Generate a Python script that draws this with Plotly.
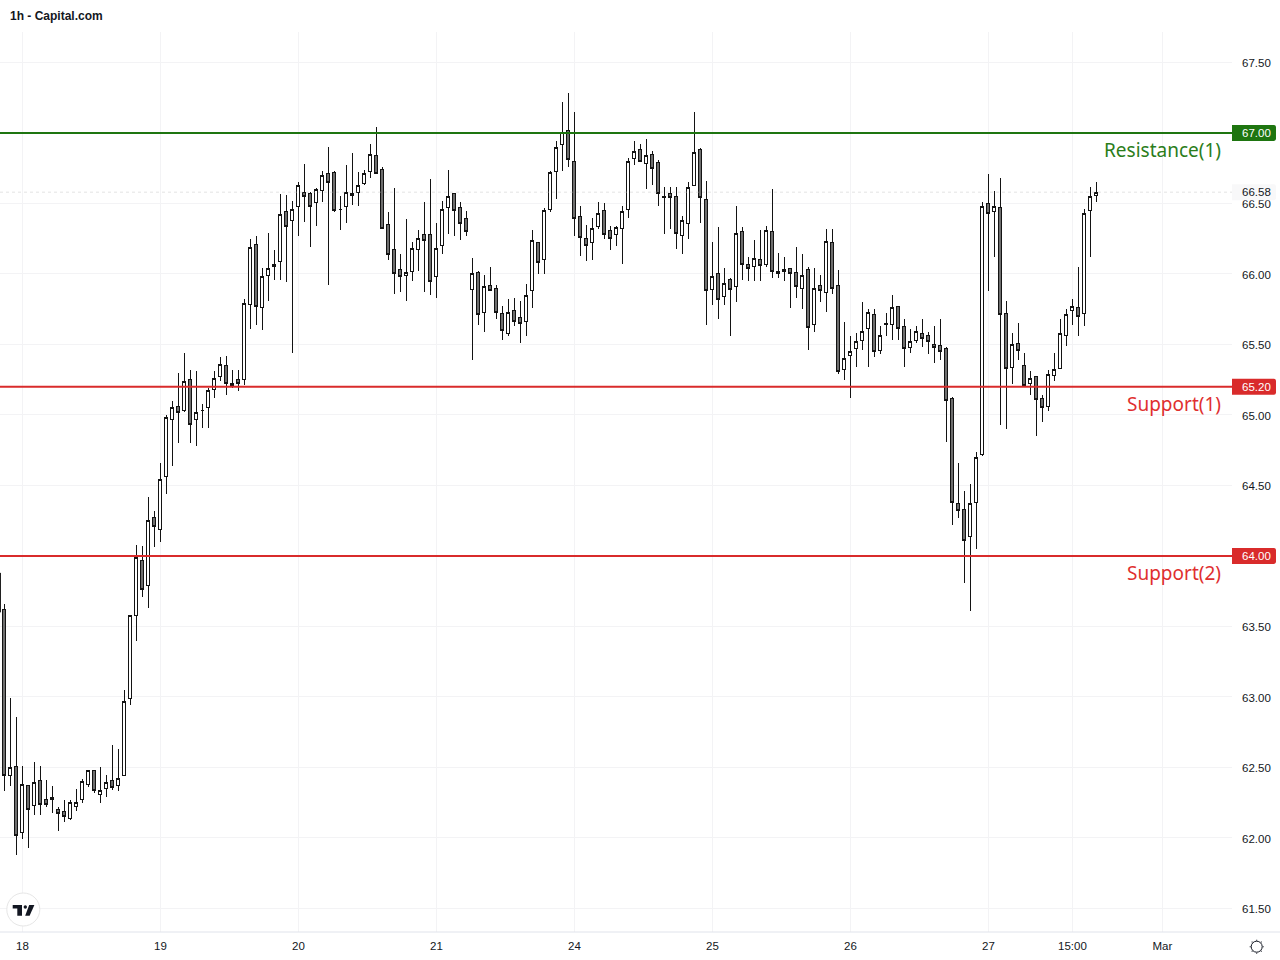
import plotly.graph_objects as go

# hourly bars
opens = [63.62, 62.44, 62.51, 62.04, 62.37, 62.23, 62.41, 62.27, 62.27, 62.20, 62.19, 62.14, 62.22, 62.27, 62.38, 62.48, 62.31, 62.35, 62.41, 62.37,
         62.44, 62.99, 63.58, 63.97, 63.79, 64.27, 64.19, 64.56, 64.97, 65.06, 65.03, 65.25, 64.97, 65.03, 65.05, 65.18, 65.27, 65.35, 65.22, 65.25,
         65.25, 65.78, 66.21, 65.76, 65.99, 66.05, 66.09, 66.44, 66.38, 66.48, 66.58, 66.57, 66.51, 66.59, 66.71, 66.72, 66.46, 66.48, 66.56, 66.58,
         66.64, 66.73, 66.84, 66.74, 66.35, 66.17, 66.03, 65.99, 66.02, 66.17, 66.28, 66.28, 65.98, 66.20, 66.47, 66.57, 66.47, 66.39, 65.89, 66.01,
         65.73, 65.92, 65.90, 65.72, 65.58, 65.74, 65.69, 65.66, 65.88, 66.22, 66.10, 66.46, 66.73, 66.92, 67.02, 66.80, 66.41, 66.25, 66.22, 66.34,
         66.45, 66.31, 66.28, 66.32, 66.46, 66.82, 66.88, 66.78, 66.85, 66.79, 66.55, 66.57, 66.55, 66.27, 66.36, 66.63, 66.88, 66.53, 65.89, 66.00,
         65.84, 65.96, 65.91, 66.30, 66.07, 66.05, 66.10, 66.07, 66.30, 66.00, 66.03, 66.04, 66.01, 65.90, 66.03, 65.64, 65.92, 65.87, 66.22, 65.92,
         65.32, 65.42, 65.47, 65.53, 65.61, 65.71, 65.46, 65.65, 65.64, 65.77, 65.63, 65.48, 65.53, 65.58, 65.56, 65.50, 65.49, 65.47, 65.12, 64.37,
         64.33, 64.14, 64.38, 64.72, 66.50, 66.44, 66.47, 65.72, 65.34, 65.51, 65.35, 65.22, 65.27, 65.12, 65.06, 65.28, 65.33, 65.56, 65.74, 65.76,
         65.72, 66.45, 66.56]
highs = [63.66, 62.99, 62.86, 62.51, 62.37, 62.54, 62.51, 62.41, 62.37, 62.22, 62.27, 62.27, 62.35, 62.42, 62.48, 62.48, 62.50, 62.45, 62.66, 62.63,
         63.05, 63.58, 64.08, 64.07, 64.42, 64.32, 64.66, 65.00, 65.10, 65.30, 65.44, 65.32, 65.31, 65.08, 65.19, 65.31, 65.41, 65.42, 65.32, 65.32,
         65.82, 66.25, 66.27, 66.04, 66.29, 66.17, 66.57, 66.56, 66.52, 66.65, 66.78, 66.58, 66.61, 66.73, 66.90, 66.73, 66.55, 66.77, 66.86, 66.72,
         66.74, 66.92, 67.04, 66.76, 66.44, 66.61, 66.14, 66.39, 66.23, 66.31, 66.51, 66.67, 66.36, 66.52, 66.74, 66.57, 66.51, 66.45, 66.11, 66.02,
         65.99, 66.05, 65.92, 65.77, 65.82, 65.83, 65.81, 65.93, 66.31, 66.23, 66.47, 66.73, 66.94, 67.22, 67.28, 67.15, 66.48, 66.35, 66.40, 66.51,
         66.50, 66.34, 66.34, 66.48, 66.82, 66.94, 66.92, 66.96, 66.87, 66.81, 66.62, 66.62, 66.62, 66.41, 66.65, 67.15, 66.89, 66.66, 66.23, 66.33,
         66.04, 65.97, 66.48, 66.33, 66.12, 66.24, 66.31, 66.34, 66.60, 66.15, 66.12, 66.04, 66.19, 66.14, 66.05, 66.04, 65.99, 66.32, 66.32, 66.03,
         65.66, 65.56, 65.58, 65.80, 65.75, 65.75, 65.63, 65.72, 65.85, 65.77, 65.68, 65.61, 65.63, 65.68, 65.59, 65.63, 65.68, 65.48, 65.13, 64.66,
         64.46, 64.51, 64.74, 66.51, 66.71, 66.59, 66.68, 65.81, 65.58, 65.65, 65.44, 65.31, 65.27, 65.14, 65.32, 65.44, 65.68, 65.75, 65.82, 66.05,
         66.46, 66.62, 66.65]
lows = [62.33, 62.37, 61.88, 61.99, 61.93, 62.16, 62.16, 62.22, 62.18, 62.05, 62.11, 62.13, 62.19, 62.25, 62.36, 62.32, 62.25, 62.29, 62.34, 62.33,
        62.44, 62.94, 63.40, 63.71, 63.63, 64.06, 64.10, 64.44, 64.64, 64.80, 65.02, 64.80, 64.78, 64.91, 64.91, 65.12, 65.24, 65.14, 65.19, 65.17,
        65.21, 65.61, 65.64, 65.60, 65.81, 65.96, 65.96, 65.94, 65.44, 66.27, 66.37, 66.19, 66.34, 66.51, 65.92, 66.44, 66.31, 66.36, 66.49, 66.48,
        66.63, 66.68, 66.71, 66.32, 66.10, 65.86, 65.87, 65.81, 65.95, 66.02, 65.87, 65.85, 65.83, 66.14, 66.28, 66.27, 66.24, 66.27, 65.39, 65.64,
        65.59, 65.88, 65.68, 65.53, 65.56, 65.63, 65.51, 65.56, 65.76, 66.00, 66.00, 66.44, 66.53, 66.73, 66.76, 66.27, 66.13, 66.09, 66.10, 66.32,
        66.25, 66.17, 66.20, 66.07, 66.40, 66.77, 66.80, 66.60, 66.63, 66.48, 66.28, 66.32, 66.18, 66.14, 66.25, 66.63, 66.36, 65.64, 65.78, 65.68,
        65.78, 65.56, 65.80, 65.96, 65.95, 65.95, 65.95, 66.05, 65.97, 65.97, 65.95, 65.76, 65.83, 65.75, 65.46, 65.59, 65.80, 65.73, 65.86, 65.29,
        65.25, 65.12, 65.34, 65.46, 65.34, 65.41, 65.43, 65.56, 65.53, 65.53, 65.34, 65.44, 65.51, 65.48, 65.43, 65.37, 65.39, 64.81, 64.22, 64.27,
        63.81, 63.61, 64.05, 64.71, 65.88, 66.12, 64.93, 64.90, 65.22, 65.39, 65.21, 65.14, 64.85, 64.95, 65.03, 65.24, 65.33, 65.49, 65.64, 65.56,
        65.63, 66.12, 66.51]
closes = [62.44, 62.50, 62.02, 62.38, 62.20, 62.39, 62.24, 62.24, 62.29, 62.17, 62.15, 62.25, 62.25, 62.40, 62.48, 62.34, 62.34, 62.39, 62.36, 62.42,
          62.97, 63.58, 63.99, 63.76, 64.25, 64.21, 64.54, 64.98, 65.05, 65.02, 65.24, 64.93, 65.02, 65.03, 65.17, 65.26, 65.36, 65.22, 65.21, 65.22,
          65.79, 66.19, 65.77, 65.98, 66.04, 66.07, 66.42, 66.34, 66.46, 66.63, 66.55, 66.48, 66.60, 66.70, 66.65, 66.45, 66.46, 66.58, 66.57, 66.63,
          66.71, 66.85, 66.71, 66.32, 66.14, 66.00, 65.98, 66.01, 66.18, 66.25, 66.24, 65.95, 66.18, 66.46, 66.55, 66.45, 66.36, 66.30, 66.00, 65.71,
          65.91, 65.88, 65.73, 65.60, 65.73, 65.66, 65.65, 65.85, 66.24, 66.08, 66.45, 66.72, 66.90, 67.00, 66.81, 66.39, 66.26, 66.20, 66.32, 66.43,
          66.28, 66.25, 66.33, 66.44, 66.80, 66.87, 66.80, 66.84, 66.75, 66.57, 66.54, 66.54, 66.29, 66.38, 66.61, 66.86, 66.54, 65.88, 65.98, 65.82,
          65.93, 65.89, 66.29, 66.07, 66.04, 66.11, 66.06, 66.31, 66.02, 66.02, 66.02, 66.00, 65.91, 65.99, 65.62, 65.90, 65.88, 66.23, 65.90, 65.31,
          65.40, 65.45, 65.52, 65.59, 65.73, 65.45, 65.56, 65.64, 65.76, 65.61, 65.47, 65.52, 65.59, 65.54, 65.52, 65.48, 65.45, 65.10, 64.38, 64.32,
          64.11, 64.37, 64.70, 66.48, 66.43, 66.48, 65.71, 65.33, 65.50, 65.46, 65.21, 65.26, 65.11, 65.05, 65.29, 65.32, 65.58, 65.71, 65.77, 65.70,
          66.43, 66.55, 66.58]

# tail of the bar before the first one, only its wick shows at the left edge
first_wick_high = 63.88
first_wick_low = 63.60

price_ticks = [61.5, 62.0, 62.5, 63.0, 63.5, 64.0, 64.5, 65.0, 65.5, 66.0, 66.5, 67.0, 67.5]
time_ticks = [3, 26, 49, 72, 95, 118, 141, 164, 178, 193]
time_labels = ['18', '19', '20', '21', '24', '25', '26', '27', '15:00', 'Mar']

level_names = ['Resistance(1)', 'Support(1)', 'Support(2)']
level_prices = [67.0, 65.2, 64.0]
level_colors = ['#1e7510', '#d92b2b', '#d92b2b']
label_colors = ['#2b7d1a', '#e02f2f', '#e02f2f']
last_price = 66.58

GRID = '#f3f3f5'
INK = '#131722'
TICK_FONT = dict(family='Liberation Sans', size=11.5, color=INK)
W, H = 1280, 960
L_RIGHT, T_TOP, B_BOTTOM = 1232, 32, 932
Y_MIN, Y_MAX = 61.333, 67.716


# picture pixels to paper coordinates, for the logo, the price tags and the small icon
def px(x):
    return x / L_RIGHT


def py(y):
    return (B_BOTTOM - y) / (B_BOTTOM - T_TOP)


def path(points):
    return 'M' + ' L'.join(f'{px(x):.5f},{py(y):.5f}' for x, y in points) + ' Z'


# price tag on the scale, small round at the right hand corners
def tag(price, color):
    yc = T_TOP + (Y_MAX - price) / (Y_MAX - Y_MIN) * (B_BOTTOM - T_TOP)
    pts = [(1232, yc - 8), (1274, yc - 8), (1275.4, yc - 7.4), (1276, yc - 6),
           (1276, yc + 6), (1275.4, yc + 7.4), (1274, yc + 8), (1232, yc + 8)]
    return dict(type='path', xref='paper', yref='paper', fillcolor=color, line_width=0, path=path(pts))


fig = go.Figure()

fig.add_trace(go.Candlestick(
    x=list(range(len(opens))), open=opens, high=highs, low=lows, close=closes,
    increasing=dict(line=dict(color='#131313', width=1), fillcolor='#ffffff'),
    decreasing=dict(line=dict(color='#131313', width=1), fillcolor='#6e6e6e'),
    whiskerwidth=0, showlegend=False, hoverinfo='skip'))
fig.add_trace(go.Scatter(x=[-0.66, -0.66], y=[first_wick_high, first_wick_low], mode='lines',
                         line=dict(color='#131313', width=1), showlegend=False, hoverinfo='skip'))

shapes = []
# axis line along the bottom, goes on under the price scale
shapes.append(dict(type='line', xref='paper', yref='paper', x0=0, x1=px(W), y0=0, y1=0,
                   line=dict(color='#e0e3eb', width=1)))
shapes.append(dict(type='line', xref='paper', yref='y', x0=0, x1=1, y0=last_price, y1=last_price,
                   line=dict(color='rgba(190,190,190,0.45)', width=1, dash='dot')))
shapes.append(tag(last_price, '#f8f8f9'))
for price, color in zip(level_prices, level_colors):
    shapes.append(dict(type='line', xref='paper', yref='y', x0=0, x1=1, y0=price, y1=price,
                       line=dict(color=color, width=2)))
    shapes.append(tag(price, color))

# tv logo
shapes.append(dict(type='circle', xref='paper', yref='paper', x0=px(6.8), x1=px(39.8), y0=py(926), y1=py(893),
                   fillcolor='white', line=dict(color='#e6e6e6', width=1)))
shapes.append(dict(type='path', xref='paper', yref='paper', fillcolor=INK, line_width=0,
                   path=path([(12.7, 905), (22, 905), (22, 915.7), (17.3, 915.7), (17.3, 908.5), (12.7, 908.5)])))
shapes.append(dict(type='path', xref='paper', yref='paper', fillcolor=INK, line_width=0,
                   path=path([(29.2, 905), (34.4, 905), (29.6, 915.7), (25.2, 915.7)])))
shapes.append(dict(type='circle', xref='paper', yref='paper', x0=px(23.6), x1=px(27), y0=py(908.7), y1=py(905.3),
                   fillcolor=INK, line_width=0))

# sun icon, bottom right
shapes.append(dict(type='circle', xref='paper', yref='paper', x0=px(1251.2), x1=px(1262.2), y0=py(952.2), y1=py(941.2),
                   fillcolor='white', line=dict(color=INK, width=1)))
for dx, dy in [(0, -6.5), (0, 6.5), (-6.5, 0), (6.5, 0), (-4.6, -4.6), (4.6, -4.6), (-4.6, 4.6), (4.6, 4.6)]:
    shapes.append(dict(type='rect', xref='paper', yref='paper',
                       x0=px(1256.2 + dx), x1=px(1257.2 + dx), y0=py(947.2 + dy), y1=py(946.2 + dy),
                       fillcolor=INK, line_width=0))

annotations = [dict(text='<b>1h - Capital.com</b>', xref='paper', yref='paper', x=px(8), y=py(15.5),
                    xanchor='left', yanchor='middle', showarrow=False,
                    font=dict(family='Liberation Sans', size=12, color=INK))]

for name, price, label_color in zip(level_names, level_prices, label_colors):
    annotations.append(dict(text=f'{price:.2f}', xref='paper', yref='y', x=px(1240), y=price, xanchor='left',
                            yanchor='middle', showarrow=False,
                            font=dict(family='Liberation Sans', size=11.5, color='white')))
    annotations.append(dict(text=name, xref='paper', yref='y', x=px(1223), y=price, yshift=-17, xanchor='right',
                            yanchor='middle', showarrow=False,
                            font=dict(family='Noto Sans', size=19, color=label_color)))
annotations.append(dict(text=f'{last_price:.2f}', xref='paper', yref='y', x=px(1240), y=last_price, xanchor='left',
                        yanchor='middle', showarrow=False,
                        font=dict(family='Liberation Sans', size=11.5, color=INK)))

# the level tags already carry their price, no second label under them
price_labels = ['' if p in level_prices else f'{p:.2f}' for p in price_ticks]

fig.update_layout(
    width=W, height=H, autosize=False,
    margin=dict(l=0, r=W - L_RIGHT, t=T_TOP, b=H - B_BOTTOM, pad=0),
    paper_bgcolor='white', plot_bgcolor='white',
    boxgap=0.25, showlegend=False, shapes=shapes, annotations=annotations,
    xaxis=dict(range=[-0.7333, 204.6], tickmode='array', tickvals=time_ticks, ticktext=time_labels,
               showgrid=True, gridcolor=GRID, gridwidth=1, zeroline=False, rangeslider=dict(visible=False),
               ticks='', ticklabelstandoff=5, tickfont=TICK_FONT),
    yaxis=dict(range=[Y_MIN, Y_MAX], side='right', tickmode='array', tickvals=price_ticks,
               ticktext=price_labels, showgrid=True, gridcolor=GRID, gridwidth=1,
               zeroline=False, ticks='', ticklabelstandoff=9, ticklabelshift=1, tickfont=TICK_FONT),
)

# sharp candle outlines, no margin round the page
page_js = ("document.body.style.margin='0';"
           "document.head.insertAdjacentHTML('beforeend','<style>path.box{shape-rendering:crispEdges}</style>');")
fig.write_html('out.html', config=dict(displayModeBar=False), post_script=page_js)
